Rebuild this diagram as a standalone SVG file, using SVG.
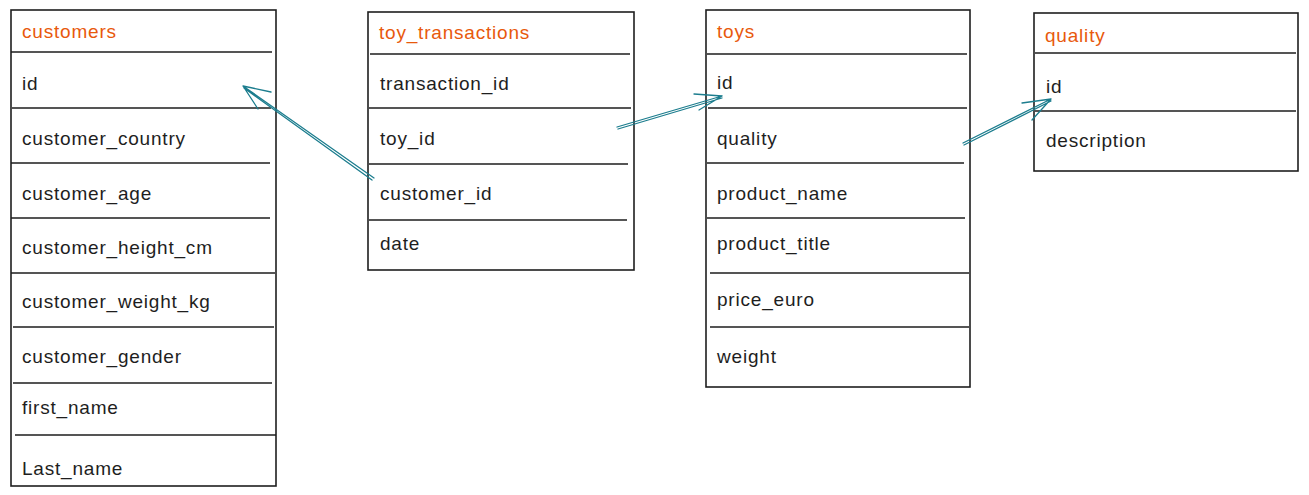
<svg xmlns="http://www.w3.org/2000/svg" width="1309" height="495" viewBox="0 0 1309 495">
<style>
.box{fill:#ffffff;stroke:#1e1e1e;stroke-width:1.6}
.sep{stroke:#1e1e1e;stroke-width:1.6;fill:none}
.hd{font-family:"Liberation Sans",Arial,sans-serif;font-size:19px;letter-spacing:0.8px;fill:#e8590c}
.tx{font-family:"Liberation Sans",Arial,sans-serif;font-size:19px;letter-spacing:0.8px;fill:#1e1e1e}
.con{stroke:#1c7d8e;stroke-width:1.3;fill:none;stroke-linecap:round}
</style>
<rect width="1309" height="495" fill="#ffffff"/>
<g id="customers">
<rect class="box" x="11" y="10" width="265" height="476"/>
<path class="sep" d="M11 52H272M12 108H271M11 163H270M11 218H270M11 273H275M13 327H274M13 383H272M15 435H276"/>
<text class="hd" x="22" y="38">customers</text>
<text class="tx" x="22" y="90">id</text>
<text class="tx" x="22" y="145">customer_country</text>
<text class="tx" x="22" y="200">customer_age</text>
<text class="tx" x="22" y="254">customer_height_cm</text>
<text class="tx" x="22" y="308">customer_weight_kg</text>
<text class="tx" x="22" y="363">customer_gender</text>
<text class="tx" x="22" y="414">first_name</text>
<text class="tx" x="22" y="475">Last_name</text>
</g>
<g id="toy_transactions">
<rect class="box" x="368" y="12" width="266" height="258"/>
<path class="sep" d="M370 54H630M369 108H631M369 164H628M369 220H627"/>
<text class="hd" x="379" y="39">toy_transactions</text>
<text class="tx" x="380" y="90">transaction_id</text>
<text class="tx" x="380" y="145">toy_id</text>
<text class="tx" x="380" y="200">customer_id</text>
<text class="tx" x="380" y="250">date</text>
</g>
<g id="toys">
<rect class="box" x="706" y="10" width="264" height="377"/>
<path class="sep" d="M707 54H967M708 108H967M707 163H964M707 218H965M710 273H969M710 327H969"/>
<text class="hd" x="717" y="38">toys</text>
<text class="tx" x="717" y="89">id</text>
<text class="tx" x="717" y="145">quality</text>
<text class="tx" x="717" y="200">product_name</text>
<text class="tx" x="717" y="250">product_title</text>
<text class="tx" x="717" y="306">price_euro</text>
<text class="tx" x="717" y="363">weight</text>
</g>
<g id="quality">
<rect class="box" x="1034" y="13" width="264" height="158"/>
<path class="sep" d="M1035 53H1296M1035 111H1296"/>
<text class="hd" x="1045" y="42">quality</text>
<text class="tx" x="1046" y="93">id</text>
<text class="tx" x="1046" y="147">description</text>
</g>
<g id="connectors">
<path class="con" d="M374 178L243 86M372 180L244 88M243 86L271 92M243 86L258 109"/>
<path class="con" d="M617 127L722 96M618 129L722 98M722 96L694 94M722 96L699 110"/>
<path class="con" d="M963 143L1051 99M964 145L1051 101M1051 99L1022 103M1051 99L1032 120"/>
</g>
</svg>
